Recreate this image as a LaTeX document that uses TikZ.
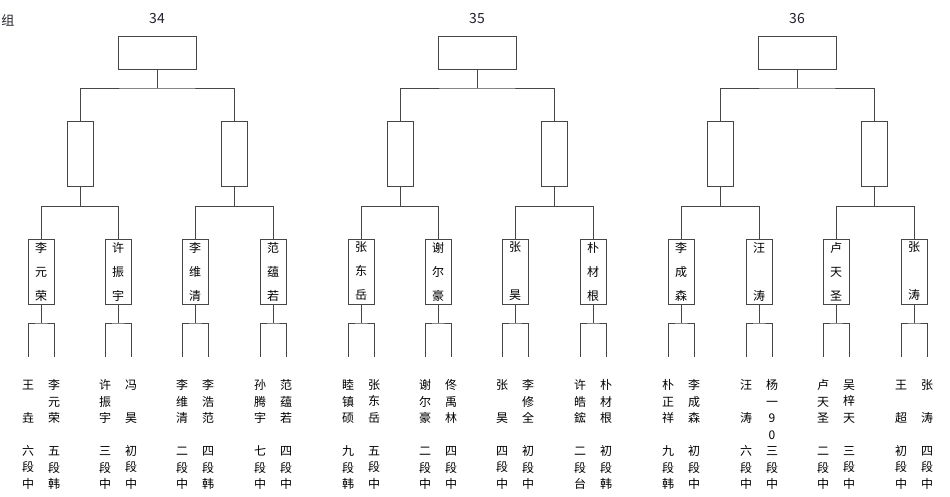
\documentclass[tikz,border=0pt]{standalone}
\usepackage{fontspec}
\newfontfamily\cjk{Noto Sans CJK SC}
\definecolor{linegray}{RGB}{70,70,70}
\definecolor{labelcol}{RGB}{35,35,45}
\tikzset{
  ln/.style={draw=linegray, line width=1pt},
  topbox/.style={ln, minimum width=78pt, minimum height=33pt, inner sep=0pt},
  semibox/.style={ln, minimum width=26pt, minimum height=65pt, inner sep=0pt},
  namebox/.style={ln, minimum width=26pt, minimum height=65pt, inner sep=0pt, align=center, font=\cjk\fontsize{12}{24}\selectfont},
  colt/.style={inner sep=0pt, align=center, font=\cjk\fontsize{12}{16.5}\selectfont},
  grplabel/.style={inner sep=0pt, font=\cjk\fontsize{14}{16}\selectfont, text=labelcol},
}
\newcommand\mygroup[2]{%
  \begin{scope}[xshift=#1pt]
    \node[grplabel] (lab#2) at (157,19) {#2};
    \node[topbox] (t#2) at (157,52.5) {};
    \coordinate (j#2) at (157,88);
    \node[semibox] (s#2a) at (80,153.5) {};
    \node[semibox] (s#2b) at (234,153.5) {};
    \coordinate (k#2a) at (80,206);
    \coordinate (k#2b) at (234,206);
    \draw[ln] (t#2.south) -- (j#2);
    \draw[ln] (s#2a.north) |- (j#2) -| (s#2b.north);
    \draw[ln] (s#2a.south) -- (k#2a);
    \draw[ln] (s#2b.south) -- (k#2b);
  \end{scope}}
\newcommand\myentry[7]{%
  \begin{scope}[xshift=#1pt]
    \node[namebox] (n#2) at (#3,271.5) {#4};
    \coordinate (b#2) at (#3,323);
    \coordinate (bl#2) at (#3-13,357);
    \coordinate (br#2) at (#3+13,357);
    \node[colt] (l#2) at (#3-13,434.5) {#5};
    \node[colt] (r#2) at (#3+13,434.5) {#6};
    \draw[ln] (n#2.north) |- (#7);
    \draw[ln] (n#2.south) -- (b#2);
    \draw[ln] (bl#2) |- (b#2) -| (br#2);
  \end{scope}}
\begin{document}
\begin{tikzpicture}[x=1pt,y=-1pt]
\useasboundingbox[fill=white] (0,0) rectangle (950,496);
\node[grplabel, font=\cjk\fontsize{13}{16}\selectfont] (zu) at (8,20) {组};
\mygroup{0}{34}
\mygroup{320}{35}
\mygroup{640}{36}
% group 34
\myentry{0}{34a}{41}{李\\元\\荣}{王\\~\\垚\\~\\六\\段\\中}{李\\元\\荣\\~\\五\\段\\韩}{k34a}
\myentry{0}{34b}{118}{许\\振\\宇}{许\\振\\宇\\~\\三\\段\\中}{冯\\~\\昊\\~\\初\\段\\中}{k34a}
\myentry{0}{34c}{195}{李\\维\\清}{李\\维\\清\\~\\二\\段\\中}{李\\浩\\范\\~\\四\\段\\韩}{k34b}
\myentry{0}{34d}{273}{范\\蕴\\若}{孙\\腾\\宇\\~\\七\\段\\中}{范\\蕴\\若\\~\\四\\段\\中}{k34b}
% group 35
\myentry{320}{35a}{41}{张\\东\\岳}{睦\\镇\\硕\\~\\九\\段\\韩}{张\\东\\岳\\~\\五\\段\\中}{k35a}
\myentry{320}{35b}{118}{谢\\尔\\豪}{谢\\尔\\豪\\~\\二\\段\\中}{佟\\禹\\林\\~\\四\\段\\中}{k35a}
\myentry{320}{35c}{195}{张\\~\\昊}{张\\~\\昊\\~\\四\\段\\中}{李\\修\\全\\~\\初\\段\\中}{k35b}
\myentry{320}{35d}{273}{朴\\材\\根}{许\\皓\\鋐\\~\\二\\段\\台}{朴\\材\\根\\~\\初\\段\\韩}{k35b}
% group 36
\myentry{640}{36a}{41}{李\\成\\森}{朴\\正\\祥\\~\\九\\段\\韩}{李\\成\\森\\~\\初\\段\\中}{k36a}
\myentry{640}{36b}{119}{汪\\~\\涛}{汪\\~\\涛\\~\\六\\段\\中}{杨\\一\\9\\0\\三\\段\\中}{k36a}
\myentry{640}{36c}{196}{卢\\天\\圣}{卢\\天\\圣\\~\\二\\段\\中}{吴\\梓\\天\\~\\三\\段\\中}{k36b}
\myentry{640}{36d}{274}{张\\~\\涛}{王\\~\\超\\~\\初\\段\\中}{张\\~\\涛\\~\\四\\段\\中}{k36b}
\end{tikzpicture}
\end{document}
